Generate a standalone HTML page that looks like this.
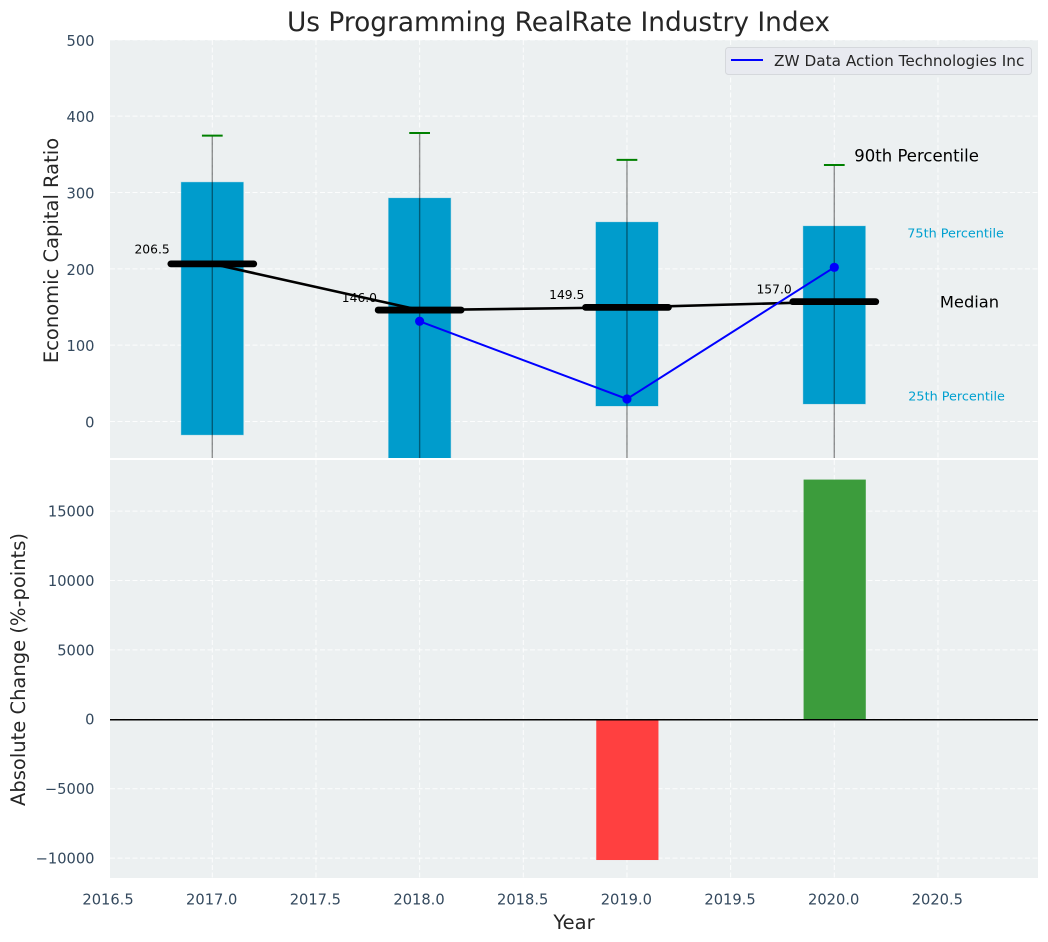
<!DOCTYPE html>
<html lang="en">
<head>
<meta charset="utf-8">
<title>Us Programming RealRate Industry Index</title>
<style>
html,body{margin:0;padding:0;background:#fff;width:1048px;height:942px;overflow:hidden}
svg{display:block;font-family:"DejaVu Sans","Liberation Sans",sans-serif}
</style>
</head>
<body>
<svg id="chart" width="1048" height="942" viewBox="0 0 1048 942" xmlns="http://www.w3.org/2000/svg">
  <defs>
    <clipPath id="clip-top"><rect x="110" y="40" width="928" height="418"/></clipPath>
    <clipPath id="clip-bottom"><rect x="110" y="460" width="928" height="418"/></clipPath>
  </defs>
  <rect x="110" y="40" width="928" height="418" fill="#ecf0f1"/>
  <rect x="110" y="460" width="928" height="418" fill="#ecf0f1"/>
  <g id="grid-top"></g>
  <g id="grid-bottom"></g>
  <g id="marks-top" clip-path="url(#clip-top)"></g>
  <g id="marks-bottom" clip-path="url(#clip-bottom)"></g>
  <g id="tick-labels"></g>
  <text x="558.5" y="31" text-anchor="middle" font-size="26.4" fill="#262626">Us Programming RealRate Industry Index</text>
  <text transform="translate(58,250.5) rotate(-90)" text-anchor="middle" font-size="19.5" fill="#262626">Economic Capital Ratio</text>
  <text transform="translate(25,669.5) rotate(-90)" text-anchor="middle" font-size="19.5" fill="#262626">Absolute Change (%-points)</text>
  <text x="574" y="929" text-anchor="middle" font-size="19.5" fill="#262626">Year</text>
  <g>
    <rect x="725.5" y="47.5" width="306" height="27" rx="3" fill="#e8eaf0" stroke="#d5d8dc"/>
    <line x1="731" x2="763" y1="60" y2="60" stroke="#0000ff" stroke-width="2"/>
    <text x="774" y="66" font-size="15.3" fill="#262626">ZW Data Action Technologies Inc</text>
  </g>
</svg>
<script>
const years = [2017, 2018, 2019, 2020];
const p75 = [313.5, 292.7, 261.2, 256];
const p25 = [-17.5, -70, 20.3, 23];
const p90 = [374.5, 378, 342.8, 336];
const p10 = [-90, -110, -80, -75];
const medians = [206.5, 146.0, 149.5, 157.0];
const companyYears = [2018, 2019, 2020];
const companyValues = [131.3, 29.5, 202];
const changeYears = [2019, 2020];
const changeValues = [-10110, 17300];
const xTicks = [2016.5, 2017, 2017.5, 2018, 2018.5, 2019, 2019.5, 2020, 2020.5];
const yTicksTop = [0, 100, 200, 300, 400, 500];
const yTicksBottom = [-10000, -5000, 0, 5000, 10000, 15000];

const NS = 'http://www.w3.org/2000/svg';
const xScale = v => 212.3 + (v - 2017) * 207.33;
const yTop = v => 421.5 - v * 0.7633;
const yBottom = v => 719.7 - v * 0.01388;
const boxHalf = 0.15;
const medianHalf = 0.2;
const capHalf = 0.05;

function mk(parent, tag, attrs, text) {
  const node = document.createElementNS(NS, tag);
  for (const key in attrs) node.setAttribute(key, attrs[key]);
  if (text !== undefined) node.textContent = text;
  parent.appendChild(node);
  return node;
}
const gridTop = document.getElementById('grid-top');
const gridBottom = document.getElementById('grid-bottom');
const marksTop = document.getElementById('marks-top');
const marksBottom = document.getElementById('marks-bottom');
const tickGroup = document.getElementById('tick-labels');
const svgRoot = document.getElementById('chart');
const gridStyle = {stroke: '#ffffff', 'stroke-width': 1, 'stroke-dasharray': '5 2.5', 'stroke-opacity': 0.85};
const tickColor = '#34495e';

xTicks.forEach(t => {
  const a = mk(gridTop, 'line', {x1: xScale(t), x2: xScale(t), y1: 40, y2: 458, ...gridStyle});
  
  
  const b = mk(gridBottom, 'line', {x1: xScale(t), x2: xScale(t), y1: 460, y2: 878, ...gridStyle});
  
  
  const label = mk(tickGroup, 'text', {x: xScale(t) - 0.6, y: 904.5, 'text-anchor': 'middle', 'font-size': 14.67, fill: tickColor}, t.toFixed(1));
  
  
});
yTicksTop.forEach(t => {
  const g = mk(gridTop, 'line', {x1: 110, x2: 1038, y1: yTop(t), y2: yTop(t), ...gridStyle});
  
  
  const label = mk(tickGroup, 'text', {x: 94.5, y: yTop(t) + 6, 'text-anchor': 'end', 'font-size': 14.67, fill: tickColor}, String(t));
  
  
});
yTicksBottom.forEach(t => {
  const g = mk(gridBottom, 'line', {x1: 110, x2: 1038, y1: yBottom(t) - 0.4, y2: yBottom(t) - 0.4, ...gridStyle});
  
  
  const label = mk(tickGroup, 'text', {x: 94.5, y: yBottom(t) + 5, 'text-anchor': 'end', 'font-size': 14.67, fill: tickColor}, (t < 0 ? '\u2212' : '') + Math.abs(t));
  
  
});

years.forEach((yr, i) => {
  const box = mk(marksTop, 'rect', {x: xScale(yr - boxHalf), width: xScale(yr + boxHalf) - xScale(yr - boxHalf), y: yTop(p75[i]), height: yTop(p25[i]) - yTop(p75[i]), fill: '#009ccc', stroke: '#009ccc', 'stroke-opacity': 0.25, 'stroke-width': 1});
  
  
  const whisker = mk(marksTop, 'line', {x1: xScale(yr), x2: xScale(yr), y1: yTop(p90[i]), y2: yTop(p10[i]), stroke: '#000000', 'stroke-opacity': 0.42, 'stroke-width': 1.4});
  
  
  const cap = mk(marksTop, 'line', {x1: xScale(yr - capHalf), x2: xScale(yr + capHalf), y1: yTop(p90[i]), y2: yTop(p90[i]), stroke: '#008000', 'stroke-width': 2});
  
  
});

const medianPath = mk(marksTop, 'polyline', {points: years.map((yr, i) => xScale(yr) + ',' + yTop(medians[i])).join(' '), fill: 'none', stroke: '#000000', 'stroke-width': 2.6});



years.forEach((yr, i) => {
  const bar = mk(marksTop, 'line', {x1: xScale(yr - medianHalf), x2: xScale(yr + medianHalf), y1: yTop(medians[i]), y2: yTop(medians[i]), stroke: '#000000', 'stroke-width': 6.8, 'stroke-linecap': 'round'});
  
  
  const label = mk(svgRoot, 'text', {x: xScale(yr) - 42.6, y: yTop(medians[i]) - (i === 0 ? 10.6 : 8.2), 'text-anchor': 'end', 'font-size': 12.3, fill: '#000000'}, medians[i].toFixed(1));
  
  
});

const companyLine = mk(marksTop, 'polyline', {points: companyYears.map((yr, i) => xScale(yr) + ',' + yTop(companyValues[i])).join(' '), fill: 'none', stroke: '#0000ff', 'stroke-width': 2});


companyYears.forEach((yr, i) => {
  const dot = mk(marksTop, 'circle', {cx: xScale(yr), cy: yTop(companyValues[i]), r: 4.6, fill: '#0000ff'});
  
  
});

changeYears.forEach((yr, i) => {
  const v = changeValues[i];
  const bar = mk(marksBottom, 'rect', {x: xScale(yr - boxHalf) + 0.4, width: xScale(yr + boxHalf) - xScale(yr - boxHalf), y: Math.min(yBottom(v), yBottom(0)), height: Math.abs(yBottom(v) - yBottom(0)), fill: v < 0 ? '#ff4040' : '#3c9c3c'});
  
  
});
const zeroLine = mk(marksBottom, 'line', {x1: 110, x2: 1038, y1: yBottom(0), y2: yBottom(0), stroke: '#000000', 'stroke-width': 1.5});



const lastYear = years[years.length - 1];
const lastIdx = years.length - 1;
const p90Text = mk(svgRoot, 'text', {x: xScale(lastYear) + 20, y: yTop(p90[lastIdx]) - 3.3, 'font-size': 16.5, fill: '#000000'}, '90th Percentile');


const p75Text = mk(svgRoot, 'text', {x: xScale(lastYear) + 73, y: yTop(p75[lastIdx]) + 11.6, 'font-size': 12.8, fill: '#00a0d0'}, '75th Percentile');


const medText = mk(svgRoot, 'text', {x: xScale(lastYear) + 105.6, y: yTop(medians[lastIdx]) + 5.6, 'font-size': 16.3, fill: '#000000'}, 'Median');


const p25Text = mk(svgRoot, 'text', {x: xScale(lastYear) + 74, y: yTop(p25[lastIdx]) - 3.6, 'font-size': 12.8, fill: '#00a0d0'}, '25th Percentile');


</script>
</body>
</html>
